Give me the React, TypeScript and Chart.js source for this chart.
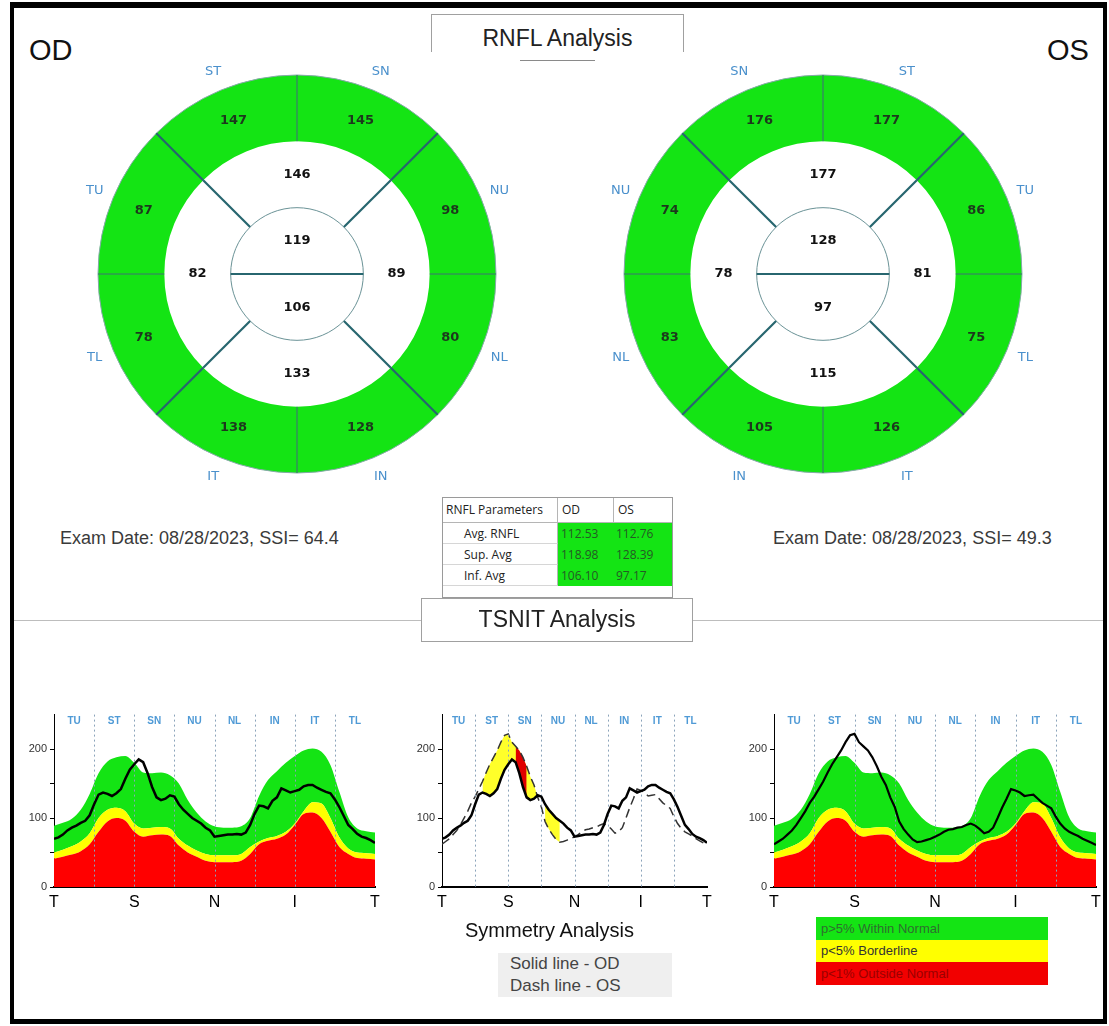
import React, { useEffect, useRef } from "react";
import { Chart, registerables } from "chart.js";

Chart.register(...registerables);

// ---------------- Data ----------------
const OD_OUTER_LABELS = ["SN", "NU", "NL", "IN", "IT", "TL", "TU", "ST"];
const OD_OUTER_VALUES = [145, 98, 80, 128, 138, 78, 87, 147];
const OD_QUADRANT_VALUES = [146, 89, 133, 82];
const OD_CENTER_VALUES = [119, 106];

const OS_OUTER_LABELS = ["ST", "TU", "TL", "IT", "IN", "NL", "NU", "SN"];
const OS_OUTER_VALUES = [177, 86, 75, 126, 105, 83, 74, 176];
const OS_QUADRANT_VALUES = [177, 81, 115, 78];
const OS_CENTER_VALUES = [128, 97];

const PARAM_NAMES = ["Avg. RNFL", "Sup. Avg", "Inf. Avg"];
const PARAM_OD = ["112.53", "118.98", "106.10"];
const PARAM_OS = ["112.76", "128.39", "97.17"];

const TSNIT_SECTORS = ["TU", "ST", "SN", "NU", "NL", "IN", "IT", "TL"];
const TSNIT_AXIS_LABELS = ["T", "S", "N", "I", "T"];
const TSNIT_AXIS_TICKS = [0, 90, 180, 270, 360];
const SECTOR_BOUNDARIES = [45, 90, 135, 180, 225, 270, 315];
const Y_LABELLED_TICKS = [0, 100, 200];

const NORM_ANGLES = [0, 10, 20, 30, 40, 50, 60, 70, 80, 90, 100, 110, 120, 130, 140, 150, 160, 170, 180, 190, 200, 210, 220, 230, 240, 250, 260, 270, 280, 290, 300, 310, 320, 330, 340, 350, 360];
const NORM_GREEN_TOP = [89, 93, 99, 112, 135, 165, 182, 188, 190, 180, 166, 165, 166, 162, 150, 126, 108, 95, 88, 86, 86, 88, 100, 132, 155, 168, 180, 190, 198, 201, 196, 177, 138, 101, 85, 81, 79];
const NORM_YELLOW_TOP = [50, 54, 59, 66, 78, 100, 112, 115, 110, 92, 85, 86, 87, 85, 70, 60, 53, 48, 46, 46, 46, 48, 58, 66, 71, 74, 80, 92, 110, 123, 121, 100, 72, 56, 50, 49, 48];
const NORM_RED_TOP = [41, 44, 47, 52, 62, 80, 95, 100, 96, 80, 73, 75, 76, 74, 60, 50, 44, 38, 36, 36, 36, 38, 48, 62, 67, 70, 76, 90, 106, 108, 100, 80, 58, 48, 42, 41, 40];

const SCAN_ANGLES = [0, 5, 10, 15, 20, 25, 30, 35, 40, 45, 50, 55, 60, 65, 70, 75, 80, 85, 90, 95, 100, 105, 110, 115, 120, 125, 130, 135, 140, 145, 150, 155, 160, 165, 170, 175, 180, 185, 190, 195, 200, 205, 210, 215, 220, 225, 230, 235, 240, 245, 250, 255, 260, 265, 270, 275, 280, 285, 290, 295, 300, 305, 310, 315, 320, 325, 330, 335, 340, 345, 350, 355, 360];
const OD_TSNIT = [70, 72, 76, 82, 86, 89, 93, 96, 104, 120, 134, 137, 135, 132, 136, 142, 157, 170, 178, 185, 181, 165, 145, 130, 126, 128, 133, 131, 120, 112, 106, 100, 96, 92, 86, 82, 73, 74, 75, 76, 76, 77, 76, 79, 90, 106, 118, 117, 114, 125, 130, 143, 140, 137, 139, 141, 146, 148, 148, 144, 141, 138, 136, 127, 116, 103, 90, 84, 77, 73, 71, 68, 64];
const OS_TSNIT = [62, 66, 70, 76, 82, 90, 100, 110, 122, 131, 142, 153, 166, 178, 188, 198, 210, 220, 222, 210, 204, 198, 188, 175, 160, 148, 130, 116, 95, 84, 76, 69, 65, 66, 68, 70, 73, 76, 80, 83, 84, 86, 87, 90, 92, 89, 84, 78, 80, 86, 100, 115, 128, 142, 140, 137, 132, 133, 134, 128, 122, 118, 114, 102, 92, 85, 80, 77, 74, 70, 67, 64, 61];

const ASYM_YELLOW_RANGES = [[55, 90], [95, 130], [140, 160]];
const ASYM_RED_RANGES = [[100, 115]];

const LEGEND_ITEMS = ["p>5% Within Normal", "p<5% Borderline", "p<1% Outside Normal"];

// ---------------- Styles ----------------
const FONT = '"Liberation Sans", Arial, sans-serif';
const GREEN = "#14e414";
const YELLOW = "#ffff00";
const RED = "#ff0000";
const DIVIDER = "#27666f";
const THIN_DIVIDER = "#3d7373";

const pts = (angles: number[], vals: (number | null)[]) =>
  angles.map((a, i) => ({ x: a, y: vals[i] }));

const masked = (ranges: number[][]) =>
  SCAN_ANGLES.map((a, i) => ({
    x: a,
    y: ranges.some(([lo, hi]) => a >= lo && a <= hi) ? OS_TSNIT[i] : null,
  }));

function ringConfig(
  outerLabels: string[],
  outerValues: number[],
  quadValues: number[],
  centerValues: number[]
): any {
  const decor = {
    id: "ringDecor",
    afterDatasetsDraw(chart: any) {
      const ctx = chart.ctx;
      const outer = chart.getDatasetMeta(0).data;
      const quad = chart.getDatasetMeta(1).data;
      const center = chart.getDatasetMeta(2).data;
      const cx = outer[0].x;
      const cy = outer[0].y;
      const radial = (a: number, from: number, to: number, w: number, c: string) => {
        ctx.beginPath();
        ctx.lineWidth = w;
        ctx.strokeStyle = c;
        ctx.moveTo(cx + from * Math.cos(a), cy + from * Math.sin(a));
        ctx.lineTo(cx + to * Math.cos(a), cy + to * Math.sin(a));
        ctx.stroke();
      };
      ctx.save();
      ctx.lineWidth = 1;
      ctx.strokeStyle = "#86a9a9";
      ctx.beginPath();
      ctx.arc(cx, cy, outer[0].outerRadius, 0, Math.PI * 2);
      ctx.stroke();
      ctx.strokeStyle = "#6a9296";
      ctx.beginPath();
      ctx.arc(cx, cy, center[0].outerRadius, 0, Math.PI * 2);
      ctx.stroke();
      outer.forEach((arc: any, i: number) =>
        radial(arc.startAngle, arc.innerRadius, arc.outerRadius, i % 2 ? 2.2 : 1.1, i % 2 ? DIVIDER : THIN_DIVIDER)
      );
      quad.forEach((arc: any) => radial(arc.startAngle, arc.innerRadius, arc.outerRadius, 2.2, DIVIDER));
      center.forEach((arc: any) => radial(arc.startAngle, 0, arc.outerRadius, 2.2, DIVIDER));

      ctx.font = 'bold 13px "DejaVu Sans"';
      ctx.textAlign = "center";
      ctx.textBaseline = "middle";
      outer.forEach((arc: any, i: number) => {
        const p = arc.getCenterPoint();
        ctx.fillStyle = "#1d381d";
        ctx.fillText(String(outerValues[i]), p.x, p.y);
      });
      quad.forEach((arc: any, i: number) => {
        const p = arc.getCenterPoint();
        ctx.fillStyle = "#111";
        ctx.fillText(String(quadValues[i]), p.x, p.y);
      });
      center.forEach((arc: any, i: number) => {
        const p = arc.getCenterPoint();
        ctx.fillStyle = "#111";
        ctx.fillText(String(centerValues[i]), p.x, p.y);
      });
      ctx.font = '13px "DejaVu Sans"';
      ctx.fillStyle = "#4a90cc";
      outer.forEach((arc: any, i: number) => {
        const m = (arc.startAngle + arc.endAngle) / 2;
        const r = arc.outerRadius + 20;
        ctx.fillText(outerLabels[i], cx + r * Math.cos(m), cy + r * Math.sin(m));
      });
      ctx.restore();
    },
  };
  return {
    type: "doughnut",
    data: {
      labels: outerLabels,
      datasets: [
        { data: outerValues.map(() => 1), backgroundColor: GREEN, borderWidth: 0, rotation: 0 },
        { data: quadValues.map(() => 1), backgroundColor: "#ffffff", borderWidth: 0, rotation: -45 },
        { data: centerValues.map(() => 1), backgroundColor: "#ffffff", borderWidth: 0, rotation: -90 },
      ],
    },
    options: {
      responsive: false,
      animation: false,
      events: [],
      cutout: 0,
      layout: { padding: 31 },
      plugins: { legend: { display: false }, tooltip: { enabled: false } },
    },
    plugins: [decor],
  };
}

const tsnitDecor = {
  id: "tsnitDecor",
  beforeDatasetDraw(chart: any, args: any) {
    if (args.index !== 0) return;
    const { ctx, chartArea: a, scales } = chart;
    const x = scales.x;
    ctx.save();
    ctx.setLineDash([2, 3]);
    ctx.strokeStyle = "#8aa3ba";
    ctx.lineWidth = 1;
    SECTOR_BOUNDARIES.forEach((d) => {
      const px = Math.round(x.getPixelForValue(d)) + 0.5;
      ctx.beginPath();
      ctx.moveTo(px, a.top);
      ctx.lineTo(px, a.bottom);
      ctx.stroke();
    });
    ctx.setLineDash([]);
    ctx.fillStyle = "#4f9ad6";
    ctx.font = 'bold 10px "Liberation Sans"';
    ctx.textAlign = "center";
    ctx.textBaseline = "middle";
    TSNIT_SECTORS.forEach((l, i) => ctx.fillText(l, x.getPixelForValue(i * 45 + 22.5), a.top + 7));
    ctx.restore();
  },
};

function tsnitScales(): any {
  return {
    x: {
      type: "linear",
      min: 0,
      max: 360,
      afterBuildTicks: (s: any) => {
        s.ticks = TSNIT_AXIS_TICKS.map((v) => ({ value: v }));
      },
      afterFit: (s: any) => {
        s.height = 30;
      },
      ticks: {
        autoSkip: false,
        maxRotation: 0,
        padding: 2,
        color: "#000",
        font: { size: 16, family: FONT },
        callback: (_v: any, i: number) => TSNIT_AXIS_LABELS[i],
      },
      grid: { display: true, drawOnChartArea: false, drawTicks: true, tickLength: 4, color: "rgba(0,0,0,0)" },
      border: { display: true, color: "#000", width: 2 },
    },
    y: {
      type: "linear",
      min: 0,
      max: 250,
      afterFit: (s: any) => {
        s.width = 40;
      },
      ticks: {
        stepSize: 50,
        autoSkip: false,
        padding: 3,
        color: "#333",
        font: { size: 11, family: FONT },
        callback: (v: any) => (Y_LABELLED_TICKS.includes(Number(v)) ? String(v) : ""),
      },
      grid: {
        display: true,
        drawOnChartArea: false,
        drawTicks: true,
        tickLength: 4,
        color: (c: any) => (c.tick && c.tick.value === 250 ? "rgba(0,0,0,0)" : "#000"),
      },
      border: { display: true, color: "#000", width: 1 },
    },
  };
}

const bandDatasets = () => [
  {
    data: pts(NORM_ANGLES, NORM_RED_TOP),
    borderWidth: 0,
    borderColor: "rgba(0,0,0,0)",
    backgroundColor: RED,
    fill: "origin",
    pointRadius: 0,
    tension: 0.4,
    cubicInterpolationMode: "monotone",
  },
  {
    data: pts(NORM_ANGLES, NORM_YELLOW_TOP),
    borderWidth: 0,
    borderColor: "rgba(0,0,0,0)",
    backgroundColor: YELLOW,
    fill: "-1",
    pointRadius: 0,
    tension: 0.4,
    cubicInterpolationMode: "monotone",
  },
  {
    data: pts(NORM_ANGLES, NORM_GREEN_TOP),
    borderWidth: 0,
    borderColor: "rgba(0,0,0,0)",
    backgroundColor: GREEN,
    fill: "-1",
    pointRadius: 0,
    tension: 0.4,
    cubicInterpolationMode: "monotone",
  },
];

const baseOptions = (): any => ({
  responsive: false,
  animation: false,
  events: [],
  layout: { padding: { top: 8, right: 10, bottom: 3, left: 0 } },
  plugins: { legend: { display: false }, tooltip: { enabled: false } },
  scales: tsnitScales(),
});

function eyeTsnitConfig(values: number[], width: number): any {
  return {
    type: "line",
    data: {
      datasets: [
        { data: pts(SCAN_ANGLES, values), borderColor: "#000", borderWidth: width, pointRadius: 0, fill: false, tension: 0 },
        ...bandDatasets(),
      ],
    },
    options: baseOptions(),
    plugins: [tsnitDecor],
  };
}

function symmetryConfig(): any {
  return {
    type: "line",
    data: {
      datasets: [
        { data: pts(SCAN_ANGLES, OD_TSNIT), borderColor: "#000", borderWidth: 2.5, pointRadius: 0, fill: false, tension: 0 },
        { data: pts(SCAN_ANGLES, OS_TSNIT), borderColor: "#333", borderWidth: 1.5, borderDash: [9, 5], pointRadius: 0, fill: false, tension: 0 },
        { data: masked(ASYM_RED_RANGES), borderColor: "rgba(0,0,0,0)", borderWidth: 0, backgroundColor: "#e00000", fill: "-2", pointRadius: 0 },
        { data: masked(ASYM_YELLOW_RANGES), borderColor: "rgba(0,0,0,0)", borderWidth: 0, backgroundColor: "#ffff2a", fill: "-3", pointRadius: 0 },
      ],
    },
    options: baseOptions(),
    plugins: [tsnitDecor],
  };
}

function ChartCanvas(props: { make: () => any; left: number; top: number; width: number; height: number }) {
  const ref = useRef<HTMLCanvasElement>(null);
  useEffect(() => {
    const chart = new Chart(ref.current as HTMLCanvasElement, props.make());
    return () => chart.destroy();
  }, []);
  return (
    <canvas
      ref={ref}
      width={props.width}
      height={props.height}
      style={{ position: "absolute", left: props.left, top: props.top, width: props.width, height: props.height }}
    />
  );
}

const abs = (s: React.CSSProperties): React.CSSProperties => ({ position: "absolute", whiteSpace: "nowrap", ...s });

function ParamTable() {
  const rowTop = (i: number) => 25 + i * 21;
  return (
    <div style={abs({ left: 442, top: 497, width: 231, height: 101, border: "1px solid #9a9a9a", background: "#fff", boxSizing: "border-box", fontFamily: '"Open Sans", sans-serif', fontSize: 12, color: "#222" })}>
      <div style={abs({ left: 0, top: 0, width: 115, height: 25, borderRight: "1px solid #b5b5b5", borderBottom: "1px solid #b5b5b5", boxSizing: "border-box", lineHeight: "24px", paddingLeft: 3 })}>RNFL Parameters</div>
      <div style={abs({ left: 115, top: 0, width: 56, height: 25, borderRight: "1px solid #b5b5b5", borderBottom: "1px solid #b5b5b5", boxSizing: "border-box", lineHeight: "24px", paddingLeft: 4 })}>OD</div>
      <div style={abs({ left: 171, top: 0, width: 58, height: 25, borderBottom: "1px solid #b5b5b5", boxSizing: "border-box", lineHeight: "24px", paddingLeft: 4 })}>OS</div>
      <div style={abs({ left: 115, top: 25, width: 114, height: 63, background: GREEN })} />
      {PARAM_NAMES.map((n, i) => (
        <React.Fragment key={n}>
          <div style={abs({ left: 0, top: rowTop(i), width: 115, height: 21, borderBottom: "1px solid #d6d6d6", borderRight: "1px solid #b5b5b5", boxSizing: "border-box", lineHeight: "21px", paddingLeft: 21 })}>{n}</div>
          <div style={abs({ left: 118, top: rowTop(i), height: 21, lineHeight: "21px", color: "#245a24" })}>{PARAM_OD[i]}</div>
          <div style={abs({ left: 173, top: rowTop(i), height: 21, lineHeight: "21px", color: "#245a24" })}>{PARAM_OS[i]}</div>
        </React.Fragment>
      ))}
    </div>
  );
}

function Legend() {
  const bg = [GREEN, YELLOW, "#f20000"];
  const fg = ["#2f6e2f", "#333", "#9a0000"];
  const tops = [917, 940, 962];
  const hs = [23, 22, 23];
  return (
    <>
      {LEGEND_ITEMS.map((t, i) => (
        <div key={t} style={abs({ left: 816, top: tops[i], width: 232, height: hs[i], background: bg[i], color: fg[i], fontFamily: FONT, fontSize: 13, lineHeight: hs[i] + "px", paddingLeft: 5, boxSizing: "border-box" })}>{t}</div>
      ))}
    </>
  );
}

export default function App() {
  return (
    <div style={{ position: "absolute", left: 0, top: 0, width: 1109, height: 1026, background: "#fff", overflow: "hidden", fontFamily: FONT }}>
      {/* Section titles */}
      <div style={abs({ left: 431, top: 14, width: 253, height: 38, borderTop: "1px solid #a0a0a0", borderLeft: "1px solid #a0a0a0", borderRight: "1px solid #a0a0a0", boxSizing: "border-box" })} />
      <div style={abs({ left: 431, top: 27, width: 253, textAlign: "center", fontSize: 23, lineHeight: "23px", color: "#222" })}>RNFL Analysis</div>
      <div style={abs({ left: 520, top: 60, width: 75, height: 1, background: "#8a8a8a" })} />
      <div style={abs({ left: 29, top: 36, fontSize: 29, lineHeight: "29px", color: "#111" })}>OD</div>
      <div style={abs({ left: 1047, top: 36, fontSize: 29, lineHeight: "29px", color: "#111" })}>OS</div>

      {/* Sector maps */}
      <ChartCanvas make={() => ringConfig(OD_OUTER_LABELS, OD_OUTER_VALUES, OD_QUADRANT_VALUES, OD_CENTER_VALUES)} left={67} top={44} width={460} height={460} />
      <ChartCanvas make={() => ringConfig(OS_OUTER_LABELS, OS_OUTER_VALUES, OS_QUADRANT_VALUES, OS_CENTER_VALUES)} left={593} top={44} width={460} height={460} />

      <div style={abs({ left: 60, top: 529, fontSize: 18, lineHeight: "18px", color: "#3a3a3a" })}>Exam Date: 08/28/2023, SSI= 64.4</div>
      <div style={abs({ left: 773, top: 529, fontSize: 18, lineHeight: "18px", color: "#3a3a3a" })}>Exam Date: 08/28/2023, SSI= 49.3</div>

      <ParamTable />

      <div style={abs({ left: 14, top: 620, width: 1090, height: 1, background: "#bdbdbd" })} />
      <div style={abs({ left: 421, top: 598, width: 272, height: 44, border: "1px solid #a0a0a0", background: "#fff", boxSizing: "border-box" })} />
      <div style={abs({ left: 421, top: 608, width: 272, textAlign: "center", fontSize: 23, lineHeight: "23px", color: "#222" })}>TSNIT Analysis</div>

      {/* TSNIT charts */}
      <ChartCanvas make={() => eyeTsnitConfig(OD_TSNIT, 2.5)} left={14} top={705} width={371} height={215} />
      <ChartCanvas make={() => symmetryConfig()} left={402} top={705} width={315} height={215} />
      <ChartCanvas make={() => eyeTsnitConfig(OS_TSNIT, 2.2)} left={734} top={705} width={372} height={215} />

      <div style={abs({ left: 465, top: 920, fontSize: 20, lineHeight: "20px", color: "#111" })}>Symmetry Analysis</div>
      <div style={abs({ left: 498, top: 953, width: 174, height: 44, background: "#efefef", color: "#444", fontSize: 17, lineHeight: "22px", paddingLeft: 12, boxSizing: "border-box" })}>
        Solid line - OD
        <br />
        Dash line - OS
      </div>

      <Legend />

      {/* Outer frame */}
      <div style={abs({ left: 10, top: 2, width: 1097, height: 1022, borderStyle: "solid", borderColor: "#000", borderWidth: "6px 4px 5px 4px", boxSizing: "border-box", pointerEvents: "none" })} />
    </div>
  );
}
